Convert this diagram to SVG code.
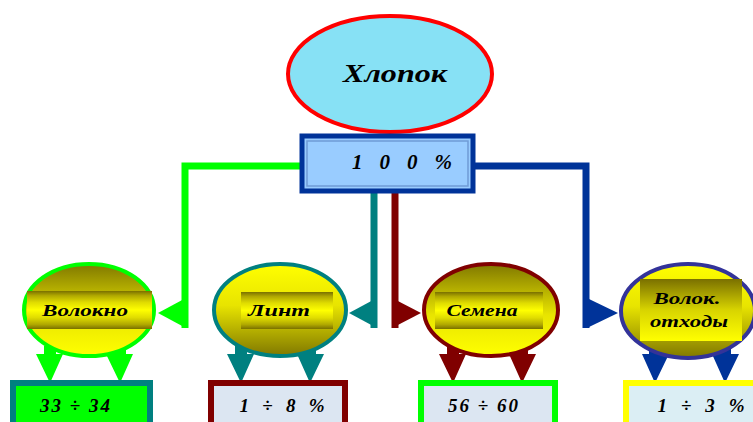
<svg xmlns="http://www.w3.org/2000/svg" width="753" height="422" viewBox="0 0 753 422">
<defs>
<linearGradient id="gDown" x1="0" y1="0" x2="0" y2="1">
<stop offset="0" stop-color="#807800"/><stop offset="0.55" stop-color="#E8E400"/><stop offset="1" stop-color="#FFFF00"/>
</linearGradient>
<linearGradient id="gUp" x1="0" y1="0" x2="0" y2="1">
<stop offset="0" stop-color="#FFFF00"/><stop offset="0.45" stop-color="#E8E400"/><stop offset="1" stop-color="#807800"/>
</linearGradient>
<linearGradient id="gBand" x1="0" y1="0" x2="0" y2="1">
<stop offset="0" stop-color="#7A7000"/><stop offset="0.12" stop-color="#B0A800"/><stop offset="0.3" stop-color="#E0DC00"/><stop offset="0.5" stop-color="#FFFF00"/><stop offset="0.7" stop-color="#E0DC00"/><stop offset="0.88" stop-color="#B0A800"/><stop offset="1" stop-color="#7A7000"/>
</linearGradient>
<linearGradient id="gBand2" x1="0" y1="0" x2="0" y2="1">
<stop offset="0" stop-color="#7A7000"/><stop offset="0.5" stop-color="#D8D400"/><stop offset="1" stop-color="#FFFF00"/>
</linearGradient>
</defs>
<style>
.lbl{font-family:"Liberation Serif","DejaVu Serif",serif;font-weight:bold;font-style:italic;fill:#000;text-anchor:middle}
.big{font-size:26px}
.mid{font-size:17px}
.num{font-size:19px}
.ln{fill:none;stroke-width:7}
</style>
<rect width="753" height="422" fill="#fff"/>

<g id="connectors">
<path class="ln" d="M302,166 H185 V328" stroke="#00FF00"/>
<polygon points="158,313 184,299 184,327" fill="#00FF00"/>
<path class="ln" d="M374,192 V328" stroke="#008080"/>
<polygon points="349,313 375,299 375,327" fill="#008080"/>
<path class="ln" d="M395,192 V328" stroke="#800000"/>
<polygon points="421,313 394,299 394,327" fill="#800000"/>
<path class="ln" d="M473,166 H586 V328" stroke="#003399"/>
<polygon points="618,313 589,299 589,327" fill="#003399"/>
<g fill="#00FF00">
<path d="M44,346 H56 V354 H63 L50,383 L36,354 H44 Z"/>
<path d="M114,346 H126 V354 H133 L120,383 L106,354 H114 Z"/>
</g>
<g fill="#008080">
<path d="M235,346 H247 V354 H254 L241,383 L227,354 H235 Z"/>
<path d="M304,346 H316 V354 H324 L310,383 L297,354 H304 Z"/>
</g>
<g fill="#800000">
<path d="M447,346 H459 V354 H466 L453,383 L439,354 H447 Z"/>
<path d="M516,346 H528 V354 H536 L522,383 L509,354 H516 Z"/>
</g>
<g fill="#003399">
<path d="M649,346 H661 V354 H669 L655,383 L642,354 H649 Z"/>
<path d="M719,346 H731 V354 H739 L725,383 L712,354 H719 Z"/>
</g>
</g>

<g id="khlopok">
<ellipse cx="390" cy="74" rx="102" ry="58" fill="#87E1F5" stroke="#FF0000" stroke-width="4"/>
<text class="lbl big" x="395" y="82" textLength="104" lengthAdjust="spacingAndGlyphs">Хлопок</text>
</g>

<g id="total">
<rect x="302" y="136" width="171" height="55" fill="#99CCFF" stroke="#003399" stroke-width="5"/>
<rect x="307" y="141" width="161" height="45" fill="none" stroke="#6F9BD6" stroke-width="1.5"/>
<text class="lbl" style="font-size:21px" x="402" y="169" textLength="100" lengthAdjust="spacing">1 0 0 %</text>
</g>

<g id="volokno">
<ellipse cx="89" cy="310" rx="65" ry="46" fill="url(#gDown)" stroke="#00FF00" stroke-width="4"/>
<rect x="27" y="291" width="125" height="38" fill="url(#gBand)"/>
<text class="lbl mid" x="85" y="316" textLength="86" lengthAdjust="spacingAndGlyphs">Волокно</text>
</g>

<g id="lint">
<ellipse cx="280" cy="310" rx="66" ry="46" fill="url(#gUp)" stroke="#008080" stroke-width="4"/>
<rect x="241" y="292" width="92" height="37" fill="url(#gBand)"/>
<text class="lbl mid" x="279" y="316" textLength="62" lengthAdjust="spacingAndGlyphs">Линт</text>
</g>

<g id="semena">
<ellipse cx="491" cy="310" rx="67" ry="46" fill="url(#gDown)" stroke="#800000" stroke-width="4"/>
<rect x="435" y="292" width="108" height="37" fill="url(#gBand)"/>
<text class="lbl mid" x="482" y="316" textLength="71" lengthAdjust="spacingAndGlyphs">Семена</text>
</g>

<g id="otkhody">
<ellipse cx="688" cy="311" rx="67" ry="47" fill="url(#gUp)" stroke="#333399" stroke-width="4"/>
<rect x="640" y="279" width="102" height="62" fill="url(#gBand2)"/>
<text class="lbl mid" x="687" y="304" textLength="67" lengthAdjust="spacingAndGlyphs">Волок.</text>
<text class="lbl mid" x="689" y="327" textLength="78" lengthAdjust="spacingAndGlyphs">отходы</text>
</g>

<g id="box-volokno">
<rect x="13" y="383" width="137" height="45" fill="#00FF00" stroke="#008080" stroke-width="6"/>
<text class="lbl num" x="75" y="412" textLength="70" lengthAdjust="spacing">33 ÷ 34</text>
</g>

<g id="box-lint">
<rect x="211" y="383" width="134" height="45" fill="#DCE6F2" stroke="#800000" stroke-width="6"/>
<text class="lbl num" x="282" y="412" textLength="85" lengthAdjust="spacing">1 ÷ 8 %</text>
</g>

<g id="box-semena">
<rect x="421" y="383" width="134" height="45" fill="#DCE6F2" stroke="#00FF00" stroke-width="6"/>
<text class="lbl num" x="483" y="412" textLength="70" lengthAdjust="spacing">56 ÷ 60</text>
</g>

<g id="box-otkhody">
<rect x="626" y="383" width="150" height="45" fill="#DBEEF4" stroke="#FFFF00" stroke-width="6"/>
<text class="lbl num" x="701" y="412" textLength="87" lengthAdjust="spacing">1 ÷ 3 %</text>
</g>
</svg>
